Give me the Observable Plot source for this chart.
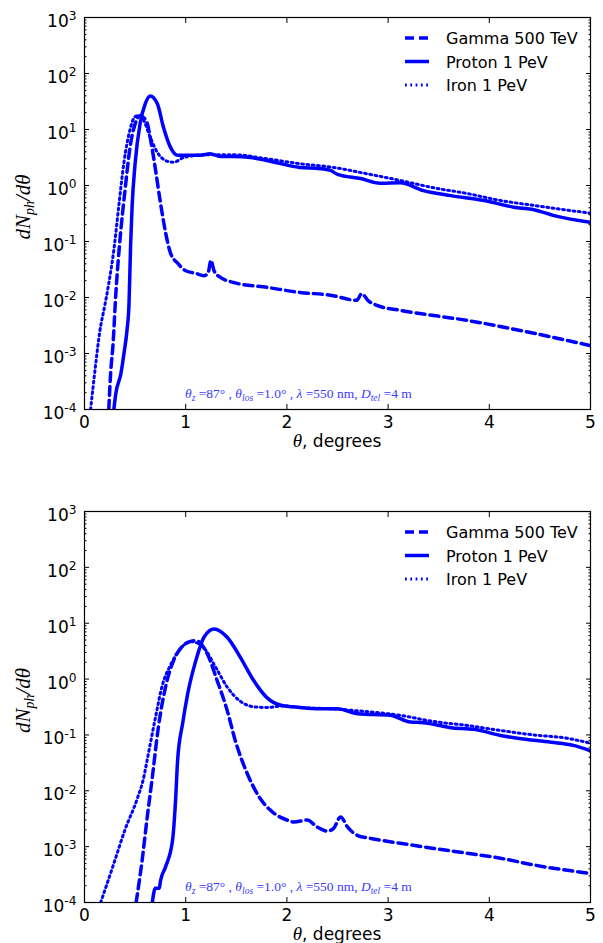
<!DOCTYPE html>
<html><head><meta charset="utf-8">
<script src="https://cdn.jsdelivr.net/npm/d3@7"></script>
<script src="https://cdn.jsdelivr.net/npm/@observablehq/plot@0.6"></script>
<style>
body{margin:0;background:#fff;}
#wrap{position:relative;width:603px;height:943px;font-family:"DejaVu Sans",sans-serif;}
.panel{position:absolute;left:0;}
</style></head><body>
<div id="wrap"><div id="p1" class="panel" style="top:0"></div><div id="p2" class="panel" style="top:471px"></div></div>
<script>
// ---- data ----
const seriesNames = ["Gamma 500 TeV", "Proton 1 PeV", "Iron 1 PeV"];
const xTicks = [0, 1, 2, 3, 4, 5];
const yDecades = [1e-4, 1e-3, 1e-2, 1e-1, 1e0, 1e1, 1e2, 1e3];
const yExponents = ["-4", "-3", "-2", "-1", "0", "1", "2", "3"];
const xLabel = ", degrees";
const annotationParts = [["θ","i"],["z","sub"],[" =87° , ",""],["θ","i"],["los","sub"],[" =1.0° , ",""],["λ","i"],[" =550 nm, ",""],["D","i"],["tel","sub"],[" =4 m",""]];

// Panel 1
const p1GammaTheta = [0.24,0.26,0.28,0.31,0.35,0.40,0.45,0.50,0.55,0.58,0.62,0.66,0.70,0.75,0.80,0.85,0.92,1.00,1.10,1.18,1.22,1.25,1.28,1.34,1.47,1.81,2.13,2.43,2.69,2.74,2.80,2.89,3.12,3.78,4.44,5.00];
const p1GammaVal   = [1.0e-4,5.0e-4,1.3e-3,1.2e-2,0.105,0.81,4.8,12.6,17.8,16.6,12.9,5.6,2.0,0.50,0.148,0.062,0.041,0.030,0.027,0.0245,0.027,0.046,0.030,0.023,0.0186,0.0151,0.0123,0.011,0.0089,0.0117,0.0089,0.0072,0.0059,0.0039,0.0023,0.00138];
const p1ProtonTheta = [0.29,0.31,0.36,0.39,0.42,0.44,0.455,0.47,0.50,0.55,0.60,0.65,0.72,0.78,0.85,0.92,1.05,1.15,1.24,1.35,1.47,1.64,1.80,2.13,2.33,2.43,2.50,2.73,2.92,3.12,3.35,3.62,3.95,4.24,4.44,4.64,5.00];
const p1ProtonVal   = [1.0e-4,1.95e-4,4.4e-4,1.0e-3,2.6e-3,7.9e-3,0.079,0.41,2.45,12.9,28.8,39.8,28.8,11.0,4.8,3.47,3.47,3.47,3.7,3.3,3.3,3.16,2.8,2.1,2.0,1.86,1.58,1.33,1.10,1.12,0.81,0.66,0.54,0.41,0.37,0.29,0.22];
const p1IronTheta = [0.06,0.11,0.15,0.20,0.24,0.29,0.34,0.39,0.45,0.50,0.54,0.58,0.65,0.72,0.82,0.88,0.98,1.20,1.47,1.80,2.13,2.46,2.79,3.12,3.45,3.78,4.11,4.44,5.00];
const p1IronVal   = [1.0e-4,6.3e-4,2.4e-3,7.1e-3,0.0178,0.071,0.45,2.6,10,17,17.8,15.1,7.2,3.9,2.7,2.6,3.16,3.55,3.55,3.0,2.45,2.1,1.62,1.23,0.91,0.72,0.54,0.44,0.32];

// Panel 2
const p2GammaTheta = [0.51,0.57,0.62,0.67,0.73,0.80,0.88,0.95,1.03,1.10,1.21,1.31,1.41,1.49,1.61,1.74,1.87,2.00,2.07,2.20,2.30,2.40,2.46,2.53,2.60,2.70,2.83,3.12,3.45,3.78,4.11,4.44,5.00];
const p2GammaVal   = [1.0e-4,5.8e-4,3.4e-3,0.0174,0.138,0.71,2.14,3.55,4.6,4.9,2.9,0.95,0.275,0.079,0.020,0.0071,0.0040,0.0030,0.00275,0.0030,0.00224,0.0019,0.0021,0.0034,0.00224,0.00158,0.0014,0.00115,0.00093,0.00076,0.00062,0.00047,0.00033];
const p2ProtonTheta = [0.67,0.70,0.74,0.75,0.80,0.87,0.90,0.92,0.97,1.02,1.10,1.18,1.28,1.41,1.54,1.67,1.80,1.94,2.13,2.30,2.50,2.70,3.02,3.22,3.35,3.62,3.85,4.11,4.28,4.61,4.83,5.00];
const p2ProtonVal   = [1.0e-4,1.8e-4,1.8e-4,2.4e-4,4.3e-4,1.3e-3,6.8e-3,0.035,0.162,0.55,2.14,5.6,7.9,5.6,2.45,0.95,0.47,0.34,0.31,0.295,0.295,0.24,0.224,0.17,0.166,0.135,0.126,0.098,0.087,0.074,0.065,0.052];
const p2IronTheta = [0.16,0.29,0.40,0.52,0.58,0.63,0.70,0.77,0.85,0.95,1.05,1.18,1.30,1.41,1.54,1.67,1.80,1.97,2.13,2.40,2.70,3.12,3.45,3.78,4.11,4.44,4.77,5.00];
const p2IronVal   = [1.0e-4,5.0e-4,2.0e-3,7.1e-3,0.0158,0.045,0.20,0.79,1.78,3.55,4.7,3.6,1.58,0.72,0.40,0.32,0.31,0.33,0.31,0.295,0.27,0.224,0.174,0.148,0.12,0.10,0.087,0.071];

// ---- styles ----
const BLUE = "#0000ff";
const styles = [
  {strokeWidth: 3.5, strokeDasharray: "9,5"},
  {strokeWidth: 3.5, strokeDasharray: null},
  {strokeWidth: 3, strokeDasharray: "1.8,3.5"}
];
const zip = (t, v) => t.map((d, i) => ({t: d, v: v[i]}));
const yMinor = [];
for (let e = -4; e < 3; e++) for (let m = 2; m <= 9; m++) yMinor.push(m * Math.pow(10, e));

function panel(el, series, H, mt, mb) {
  const ML = 84, MR = 13, W = 603;
  const lineMarks = series.map((s, i) => Plot.line(s, {
    x: "t", y: "v", stroke: BLUE, strokeWidth: styles[i].strokeWidth,
    strokeDasharray: styles[i].strokeDasharray, curve: "monotone-x", clip: true
  }));
  const fs = 17;
  const chart = Plot.plot({
    width: W, height: H, marginLeft: ML, marginRight: MR, marginTop: mt, marginBottom: mb,
    style: {fontFamily: "DejaVu Sans, sans-serif", background: "white", overflow: "visible"},
    x: {domain: [0, 5]},
    y: {type: "log", domain: [1e-4, 1e3]},
    marks: [
      ...lineMarks,
      Plot.axisX({anchor: "bottom", ticks: xTicks, tickSize: 0, tickPadding: 6, fontSize: fs, label: null, tickFormat: d => String(d), color: "black"}),
      Plot.axisX({anchor: "bottom", ticks: xTicks, tickSize: -5, text: null, label: null, stroke: "black"}),
      Plot.axisX({anchor: "top", ticks: xTicks, tickSize: -5, text: null, label: null, stroke: "black"}),
      Plot.axisY({anchor: "left", ticks: yDecades, tickSize: 0, tickPadding: 8, fontSize: fs, label: null,
        tickFormat: (d) => "10^" + yExponents[yDecades.indexOf(d)], dy: 4, color: "black"}),
      Plot.axisY({anchor: "left", ticks: yDecades, tickSize: -5, text: null, label: null, stroke: "black"}),
      Plot.axisY({anchor: "left", ticks: yMinor, tickSize: -2.5, text: null, label: null, stroke: "black"}),
      Plot.axisY({anchor: "right", ticks: yDecades, tickSize: -5, text: null, label: null, stroke: "black"}),
      Plot.axisY({anchor: "right", ticks: yMinor, tickSize: -2.5, text: null, label: null, stroke: "black"}),
      Plot.frame({stroke: "black", strokeWidth: 1.2})
    ]
  });
  const svg = d3.select(chart);
  // superscript tick labels
  svg.selectAll('g[aria-label="y-axis tick label"] text').each(function () {
    const t = this.textContent;
    if (t.startsWith("10^")) {
      const ex = t.slice(3);
      const sel = d3.select(this);
      sel.text("10");
      sel.append("tspan").attr("dy", "-0.55em").attr("font-size", "0.72em").text(ex);
    }
  });
  const fx0 = ML, fx1 = W - MR, fy0 = mt, fy1 = H - mb;
  // legend
  const lg = svg.append("g").attr("class", "legend").attr("text-anchor", "start");
  const rows = [fy0 + 21, fy0 + 44.5, fy0 + 68];
  seriesNames.forEach((name, i) => {
    lg.append("line").attr("x1", 405).attr("x2", 429).attr("y1", rows[i]).attr("y2", rows[i])
      .attr("stroke", BLUE).attr("stroke-width", styles[i].strokeWidth)
      .attr("stroke-dasharray", styles[i].strokeDasharray);
    lg.append("text").attr("x", 446).attr("y", rows[i] + 6).attr("font-size", 16)
      .attr("text-anchor", "start")
      .attr("font-family", "DejaVu Sans, sans-serif").attr("fill", "black").text(name);
  });
  // annotation
  const an = svg.append("text").attr("x", 185).attr("y", fy1 - 11).attr("text-anchor", "start")
    .attr("font-family", "Liberation Serif, serif").attr("font-size", 13.5).attr("fill", "#3b3bff");
  annotationParts.forEach(([s, k], i) => {
    const ts = an.append("tspan").text(s);
    if (k === "i") ts.attr("font-style", "italic");
    if (k === "sub") ts.attr("font-style", "italic").attr("font-size", 9.5).attr("dy", 3);
    if (i > 0 && annotationParts[i - 1][1] === "sub") ts.attr("dy", -3);
  });
  // x label
  const xl = svg.append("text").attr("x", (fx0 + fx1) / 2).attr("y", fy1 + 38)
    .attr("text-anchor", "middle").attr("font-size", 17).attr("fill", "black");
  xl.append("tspan").attr("font-family", "Liberation Serif, serif").attr("font-style", "italic").attr("font-size", 19).text("θ");
  xl.append("tspan").attr("font-family", "DejaVu Sans, sans-serif").text(xLabel);
  // y label
  const yl = svg.append("text").attr("transform", `translate(30,${(fy0 + fy1) / 2 - 6}) rotate(-90)`)
    .attr("text-anchor", "middle").attr("font-family", "Liberation Serif, serif").attr("font-style", "italic")
    .attr("font-size", 21).attr("fill", "black");
  yl.append("tspan").text("dN");
  yl.append("tspan").attr("font-size", 14).attr("dy", 4).text("ph");
  yl.append("tspan").attr("dy", -4).text("/dθ");
  el.appendChild(chart);
}

panel(document.getElementById("p1"), [zip(p1GammaTheta, p1GammaVal), zip(p1ProtonTheta, p1ProtonVal), zip(p1IronTheta, p1IronVal)], 471, 17, 62);
panel(document.getElementById("p2"), [zip(p2GammaTheta, p2GammaVal), zip(p2ProtonTheta, p2ProtonVal), zip(p2IronTheta, p2IronVal)], 472, 40, 41);
</script>
</body></html>
